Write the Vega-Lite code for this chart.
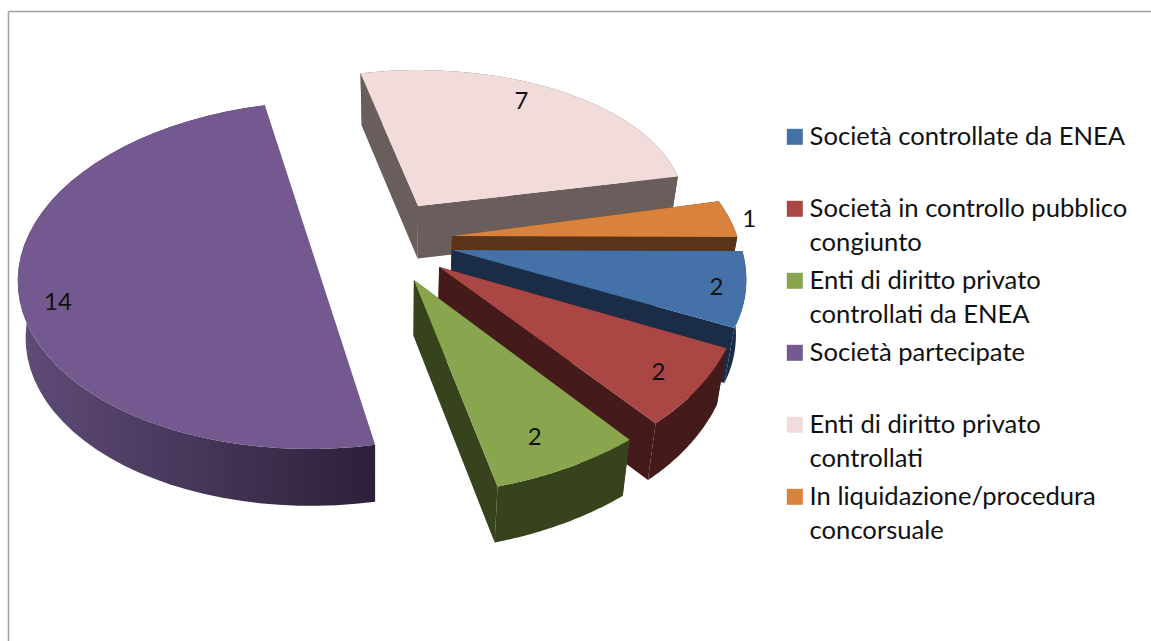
{
  "$schema": "https://vega.github.io/schema/vega-lite/v6.json",
  "width": 1143,
  "height": 630,
  "autosize": "none",
  "padding": {"left": 8, "top": 11, "right": 0, "bottom": 0},
  "background": "white",
  "view": {"stroke": null, "fill": null},
  "config": {
    "axis": {"labels": false, "ticks": false, "grid": false, "domain": true, "domainColor": "#a0a0a0", "domainWidth": 1.5, "title": null},
    "style": {"guide-label": {"lineHeight": 34}}
  },
  "data": {
    "values": [
      {"name": "Enti di diritto privato controllati", "value": 7},
      {"name": "In liquidazione/procedura concorsuale", "value": 1},
      {"name": "Società controllate da ENEA", "value": 2},
      {"name": "Società in controllo pubblico congiunto", "value": 2},
      {"name": "Enti di diritto privato controllati da ENEA", "value": 2},
      {"name": "Società partecipate", "value": 14}
    ]
  },
  "transform": [
    {"joinaggregate": [{"op": "sum", "field": "value", "as": "total"}]},
    {"window": [{"op": "sum", "field": "value", "as": "cum"}], "frame": [null, 0]},
    {"calculate": "-102.5 + 360 * (datum.cum - datum.value) / datum.total", "as": "t1"},
    {"calculate": "-102.5 + 360 * datum.cum / datum.total", "as": "t2"},
    {
      "calculate": "{'Enti di diritto privato controllati':{ox:0.327,oy:-0.394,rx:0.887,ry:0.777,k:0,d:0.3,lf:0.87,la:-6,rot:0},'In liquidazione/procedura concorsuale':{ox:0.44,oy:-0.223,rx:0.95,ry:0.914,k:0.176,d:0.3,lf:1.07,la:0,rot:0},'Società controllate da ENEA':{ox:0.44,oy:-0.143,rx:0.967,ry:1.013,k:0.165,d:0.315,lf:0.9,la:0,rot:0},'Società in controllo pubblico congiunto':{ox:0.397,oy:-0.046,rx:1.01,ry:1.189,k:0.073,d:0.325,lf:0.85,la:-2.9,rot:-3.1},'Enti di diritto privato controllati da ENEA':{ox:0.313,oy:0.029,rx:1.113,ry:1.229,k:-0.035,d:0.32,lf:0.82,la:-2.6,rot:-3.8},'Società partecipate':{ox:0,oy:0,rx:1.007,ry:0.994,k:-0.035,d:0.325,lf:0.875,la:2.6,rot:0}}[datum.name]",
      "as": "g"
    }
  ],
  "layer": [
    {
      "transform": [
        {"filter": "datum.name !== 'Società partecipate'"},
        {"calculate": "['band','edge1','edge2','top']", "as": "parts"},
        {"flatten": ["parts"], "as": ["part"]},
        {"calculate": "sequence(0, 98)", "as": "steps"},
        {"flatten": ["steps"], "as": ["i"]},
        {"filter": "datum.part === 'band' ? datum.i <= 97 : datum.part === 'top' ? datum.i <= 49 : datum.i <= 3"},
        {"calculate": "datum.part === 'top' ? (datum.i <= 48 ? datum.i / 48 : null) : datum.part === 'band' ? (datum.i <= 48 ? datum.i / 48 : (97 - datum.i) / 48) : (datum.i === 1 || datum.i === 2) ? (datum.part === 'edge1' ? 0 : 1) : null", "as": "s"},
        {"calculate": "datum.part === 'top' ? 0 : datum.part === 'band' ? (datum.i > 48 ? 1 : 0) : (datum.i >= 2 ? 1 : 0)", "as": "low"},
        {"calculate": "datum.s === null ? 0 : PI / 180 * (datum.t1 + datum.g.rot + datum.s * (datum.t2 - datum.t1))", "as": "t"},
        {"calculate": "datum.g.ox + (datum.s === null ? 0 : datum.g.rx * cos(datum.t) + datum.g.k * sin(datum.t))", "as": "topx"},
        {"calculate": "datum.topx - datum.low * 0.03 * (datum.topx - 0.27)", "as": "px"},
        {"calculate": "datum.g.oy + datum.low * datum.g.d + (datum.s === null ? 0 : datum.g.ry * sin(datum.t))", "as": "py"},
        {"calculate": "datum.part === 'top' ? datum.name : datum.name + ' (lato)'", "as": "tone"},
        {"calculate": "datum.name + datum.part", "as": "shape"}
      ],
      "mark": {"type": "line", "stroke": null, "interpolate": "linear"},
      "encoding": {
        "x": {
          "field": "px",
          "type": "quantitative",
          "axis": {"orient": "top"},
          "scale": {"domain": [-1.04, 2.77], "nice": false, "zero": false}
        },
        "y": {
          "field": "py",
          "type": "quantitative",
          "axis": {"orient": "left"},
          "scale": {"domain": [-1.50857, 2.09143], "nice": false, "zero": false, "reverse": true}
        },
        "order": {"field": "i", "type": "quantitative"},
        "detail": {"field": "shape"},
        "fill": {
          "field": "tone",
          "type": "nominal",
          "scale": {
            "domain": [
              "Società controllate da ENEA",
              "Società in controllo pubblico congiunto",
              "Enti di diritto privato controllati da ENEA",
              "Società partecipate",
              "Enti di diritto privato controllati",
              "In liquidazione/procedura concorsuale",
              "Società controllate da ENEA (lato)",
              "Società in controllo pubblico congiunto (lato)",
              "Enti di diritto privato controllati da ENEA (lato)",
              "Enti di diritto privato controllati (lato)",
              "In liquidazione/procedura concorsuale (lato)"
            ],
            "range": ["#4472a8", "#aa4644", "#89a64e", "#73598f", "#f2dcdb", "#d9823b", "#1a2c46", "#451a1a", "#37431c", "#695e5c", "#5a3318"]
          },
          "legend": {
            "values": [
              "Società controllate da ENEA",
              "Società in controllo pubblico congiunto",
              "Enti di diritto privato controllati da ENEA",
              "Società partecipate",
              "Enti di diritto privato controllati",
              "In liquidazione/procedura concorsuale"
            ],
            "labelExpr": "datum.label === 'Società in controllo pubblico congiunto' ? ['Società in controllo pubblico', 'congiunto'] : datum.label === 'Enti di diritto privato controllati da ENEA' ? ['Enti di diritto privato', 'controllati da ENEA'] : datum.label === 'Enti di diritto privato controllati' ? ['Enti di diritto privato', 'controllati'] : datum.label === 'In liquidazione/procedura concorsuale' ? ['In liquidazione/procedura', 'concorsuale'] : datum.label",
            "title": null,
            "orient": "none",
            "legendX": 774,
            "legendY": 113,
            "symbolType": "square",
            "symbolSize": 256,
            "symbolStrokeWidth": 0,
            "symbolOpacity": 1,
            "labelFont": "Lato",
            "labelFontSize": 25.6,
            "labelColor": "#111111",
            "labelLimit": 400,
            "labelOffset": 2,
            "rowPadding": 11,
            "gridAlign": "all"
          }
        }
      }
    },
    {
      "transform": [
        {"filter": "datum.name === 'Società partecipate'"},
        {"calculate": "sequence(0, 98)", "as": "steps"},
        {"flatten": ["steps"], "as": ["i"]},
        {"calculate": "datum.i <= 48 ? datum.i / 48 : (97 - datum.i) / 48", "as": "s"},
        {"filter": "datum.i <= 97"},
        {"calculate": "datum.i > 48 ? 1 : 0", "as": "low"},
        {"calculate": "PI / 180 * (datum.t1 + datum.s * (datum.t2 - datum.t1))", "as": "t"},
        {"calculate": "datum.g.ox + datum.g.rx * cos(datum.t) + datum.g.k * sin(datum.t)", "as": "topx"},
        {"calculate": "datum.topx - datum.low * 0.022 * (datum.topx - 0.18)", "as": "px"},
        {"calculate": "datum.g.oy + datum.low * datum.g.d + datum.g.ry * sin(datum.t)", "as": "py"}
      ],
      "mark": {
        "type": "line",
        "stroke": null,
        "fill": {
          "gradient": "linear",
          "x1": 0, "y1": 0, "x2": 1, "y2": 0,
          "stops": [
            {"offset": 0, "color": "#604c78"},
            {"offset": 0.5, "color": "#463659"},
            {"offset": 1, "color": "#2c203a"}
          ]
        }
      },
      "encoding": {
        "x": {"field": "px", "type": "quantitative", "axis": {"orient": "top"}},
        "y": {"field": "py", "type": "quantitative", "axis": {"orient": "left"}},
        "order": {"field": "i", "type": "quantitative"}
      }
    },
    {
      "transform": [
        {"filter": "datum.name === 'Società partecipate'"},
        {"calculate": "sequence(0, 50)", "as": "steps"},
        {"flatten": ["steps"], "as": ["i"]},
        {"calculate": "PI / 180 * (datum.t1 + (datum.i / 48) * (datum.t2 - datum.t1))", "as": "t"},
        {"calculate": "datum.g.ox + (datum.i <= 48 ? datum.g.rx * cos(datum.t) + datum.g.k * sin(datum.t) : 0)", "as": "px"},
        {"calculate": "datum.g.oy + (datum.i <= 48 ? datum.g.ry * sin(datum.t) : 0)", "as": "py"},
        {"calculate": "datum.name", "as": "tone"}
      ],
      "mark": {"type": "line", "stroke": null},
      "encoding": {
        "x": {"field": "px", "type": "quantitative", "axis": {"orient": "top"}},
        "y": {"field": "py", "type": "quantitative", "axis": {"orient": "left"}},
        "order": {"field": "i", "type": "quantitative"},
        "fill": {"field": "tone", "type": "nominal"}
      }
    },
    {
      "transform": [
        {"calculate": "PI / 180 * ((datum.t1 + datum.t2) / 2 + datum.g.la)", "as": "t"},
        {"calculate": "datum.g.ox + datum.g.lf * (datum.g.rx * cos(datum.t) + datum.g.k * sin(datum.t))", "as": "px"},
        {"calculate": "datum.g.oy + datum.g.lf * datum.g.ry * sin(datum.t)", "as": "py"}
      ],
      "mark": {"type": "text", "font": "Lato", "fontSize": 24, "color": "#111111", "align": "center", "baseline": "middle", "dy": 2},
      "encoding": {
        "x": {"field": "px", "type": "quantitative", "axis": {"orient": "top"}},
        "y": {"field": "py", "type": "quantitative", "axis": {"orient": "left"}},
        "text": {"field": "value", "type": "quantitative"}
      }
    }
  ]
}
